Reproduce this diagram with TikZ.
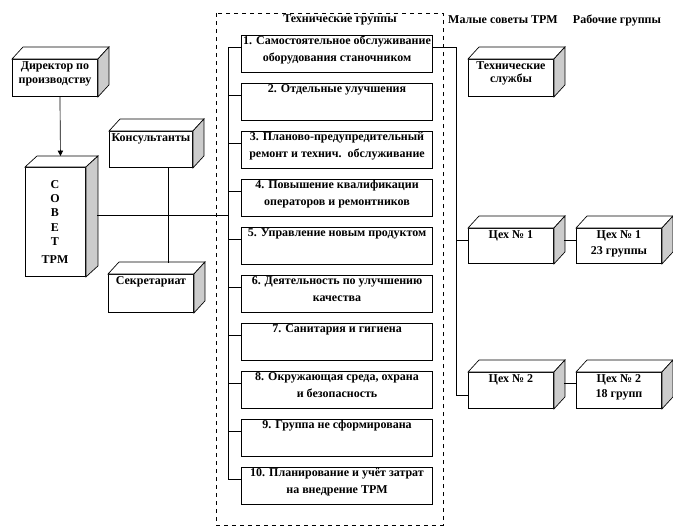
\documentclass[tikz,border=0pt]{standalone}
\usepackage{fontspec}
\setmainfont{Liberation Serif}
\usetikzlibrary{arrows.meta}
\tikzset{
  boxtext/.style={font=\fontsize{9}{12.75}\selectfont\bfseries, align=center, anchor=north, inner sep=0pt},
  hdr/.style={font=\fontsize{9}{12}\selectfont\bfseries, inner sep=0pt},
  frontface/.style={draw, line width=0.7pt, fill=white, inner sep=0pt, anchor=north west},
  groupbox/.style={draw, line width=0.8pt, fill=white, inner sep=0pt, anchor=north west,
    minimum width={191*0.75pt}, minimum height={37*0.75pt}},
  conn/.style={line width=0.5pt},
  sideface/.style={fill=black!20, draw, line width=0.5pt},
  topface/.style={fill=white, draw, line width=0.5pt},
}
% #1 name, #2 x, #3 y, #4 w, #5 h, #6 baselineskip, #7 text
\newcommand{\cubebox}[7]{%
  \node[frontface, minimum width={#4*0.75pt}, minimum height={#5*0.75pt}] (#1) at (#2,#3) {};
  \draw[topface] (#1.north west) -- ++(11,-12) -- ([shift={(11,-12)}]#1.north east) -- (#1.north east) -- cycle;
  \draw[sideface] (#1.north east) -- ++(11,-12) -- ([shift={(11,-12)}]#1.south east) -- (#1.south east) -- cycle;
  \node[boxtext, font=\fontsize{9}{#6}\selectfont\bfseries] (#1t) at ([yshift={-2*0.75pt}]#1.north) {#7};
}
\begin{document}
\begin{tikzpicture}[x=0.75pt,y=-0.75pt]
\useasboundingbox (0,0) rectangle (673,529);

% dashed frame
\draw[dashed, line width=0.5pt] (216,13) rectangle (443,525);
\node[hdr] (h1) at (340,20) {Технические группы};
\node[hdr] (h2) at (503,20) {Малые советы TPM};
\node[hdr] (h3) at (617,20) {Рабочие группы};

% left 3D boxes
\cubebox{dir}{12}{59}{85}{37}{10.5}{Директор по\\производству}
\node[frontface, minimum width={60*0.75pt}, minimum height={109*0.75pt}] (sov) at (25,167) {};
\draw[topface] (sov.north west) -- ++(12,-11) -- ([shift={(12,-11)}]sov.north east) -- (sov.north east) -- cycle;
\draw[sideface] (sov.north east) -- ++(12,-11) -- ([shift={(12,-11)}]sov.south east) -- (sov.south east) -- cycle;
\node[font=\fontsize{9}{10.7}\selectfont\bfseries, align=center, anchor=north, inner sep=0pt] (sovt) at (55,180) {С\\О\\В\\Е\\Т\\[3pt]TPM};

\cubebox{kons}{109}{131}{83}{36}{12}{Консультанты}
\cubebox{sekr}{108}{274}{85}{38}{12}{Секретариат}

% right 3D boxes
\cubebox{tech}{468}{59}{85}{37}{10}{Технические\\службы}
\cubebox{ceh1}{468}{228}{85}{35}{12}{Цех № 1}
\cubebox{grp1}{576}{228}{85}{35}{12}{Цех № 1\\23 группы}
\cubebox{ceh2}{468}{372}{85}{36}{12}{Цех № 2}
\cubebox{grp2}{576}{372}{85}{36}{11.5}{Цех № 2\\18 групп}

% group boxes
\foreach \i/\t in {
  1/{1. Самостоятельное обслуживание\\оборудования станочником},
  2/{2. Отдельные улучшения},
  3/{3. Планово-предупредительный\\ремонт и технич.\ \ обслуживание},
  4/{4. Повышение квалификации\\операторов и ремонтников},
  5/{5. Управление новым продуктом},
  6/{6. Деятельность по улучшению\\качества},
  7/{7. Санитария и гигиена},
  8/{8. Окружающая среда, охрана\\и безопасность},
  9/{9. Группа не сформирована},
  10/{10. Планирование и учёт затрат\\на внедрение TPM}}{
  \node[groupbox] (g\i) at (241,{35+48*(\i-1)}) {};
  \node[boxtext] (g\i t) at ([yshift={-1*0.75pt}]g\i.north) {\t};
  \coordinate (b\i) at (228,{47+48*(\i-1)});
  \draw[conn] (b\i) -- (b\i -| g\i.west);
}
% left bus
\draw[conn] (b1) -- (b10);

% director -> council
\coordinate (dirbot) at ([xshift={5*0.75pt}]dir.south);
\coordinate (sovtop) at ([shift={(5,-11)}]sov.north);
\draw[conn, -{Triangle[length=4pt,width=4pt]}] (dirbot) -- (sovtop);

% council -> bus
\coordinate (sovside) at (97,215);
\coordinate (busj) at (228,215);
\draw[conn] (sovside) -- (busj);

% consultants -- secretariat
\coordinate (konsb) at (168,167);
\coordinate (sekrt) at (168,263);
\draw[conn] (konsb) -- (sekrt);

% right bus
\coordinate (r1) at (456,47);
\coordinate (r2) at (456,240);
\coordinate (r3) at (456,395);
\draw[conn] (g1.east |- r1) -- (r1) -- (r3);
\draw[conn] (r2) -- (r2 -| ceh1.west);
\draw[conn] (r3) -- (r3 -| ceh2.west);
\draw[conn] (564,240) -- (grp1.west |- 0,240);
\draw[conn] (564,383) -- (grp2.west |- 0,383);
\end{tikzpicture}
\end{document}
